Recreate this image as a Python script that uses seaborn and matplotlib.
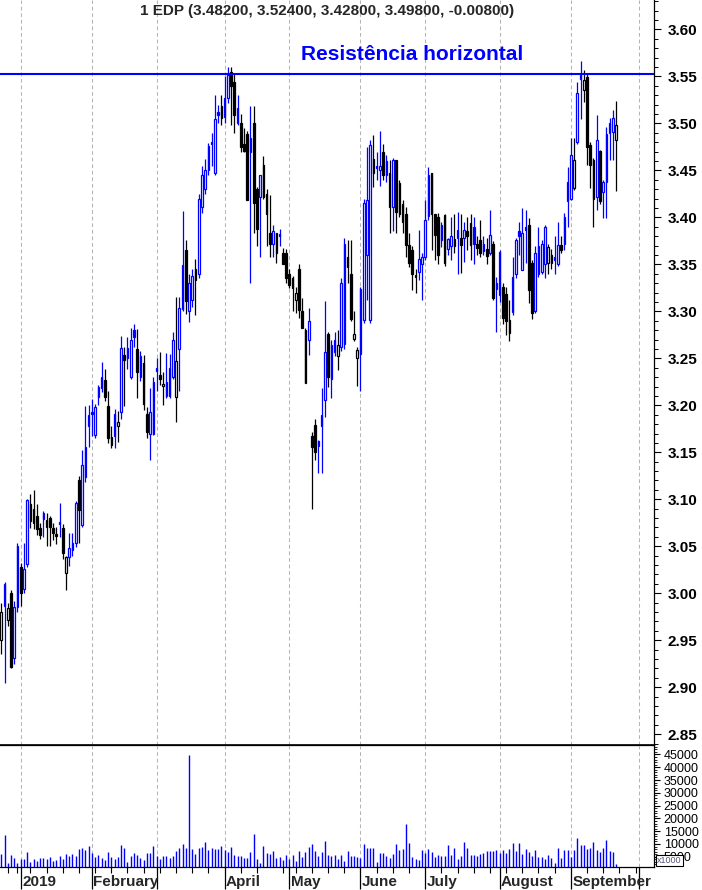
import numpy as np
import pandas as pd
import matplotlib
matplotlib.use("Agg")
import matplotlib.pyplot as plt
import matplotlib.transforms as mtransforms
import seaborn as sns

# EDP daily candles (Euronext Lisbon), 20 Dec 2018 .. 20 Sep 2019
opens = [2.950, 2.986, 2.972, 3.000, 2.931, 2.985,
         3.028, 3.005, 3.031, 3.095, 3.090, 3.082, 3.069, 3.079, 3.070, 3.080,
         3.069, 3.063, 3.074, 3.069, 3.022, 3.039, 3.046, 3.053, 3.121, 3.073,
         3.124, 3.178, 3.193, 3.168, 3.209, 3.218, 3.227, 3.199, 3.166, 3.167,
         3.178, 3.193, 3.254, 3.250, 3.230, 3.280, 3.260, 3.230, 3.245, 3.191,
         3.170, 3.170, 3.240, 3.232, 3.221, 3.210, 3.210, 3.230, 3.209, 3.260,
         3.302, 3.365, 3.300, 3.312, 3.345, 3.340, 3.411, 3.430, 3.450, 3.480,
         3.447, 3.512, 3.518, 3.507, 3.527, 3.555, 3.544, 3.500, 3.500, 3.478,
         3.489, 3.470, 3.500, 3.430, 3.422, 3.456, 3.425, 3.383, 3.372, 3.383,
         3.382, 3.362, 3.362, 3.340, 3.335, 3.312, 3.345, 3.300, 3.280, 3.270,
         3.167, 3.179, 3.162, 3.178, 3.206, 3.276, 3.228, 3.257, 3.252, 3.262,
         3.265, 3.347, 3.340, 3.271, 3.250, 3.255, 3.291, 3.360, 3.291, 3.462,
         3.455, 3.450, 3.470, 3.445, 3.447, 3.411, 3.461, 3.436, 3.414, 3.404,
         3.371, 3.365, 3.337, 3.342, 3.350, 3.358, 3.401, 3.447, 3.403, 3.400,
         3.392, 3.402, 3.366, 3.370, 3.377, 3.378, 3.378, 3.378, 3.385, 3.394,
         3.390, 3.372, 3.376, 3.372, 3.366, 3.362, 3.372, 3.330, 3.317, 3.326,
         3.318, 3.291, 3.299, 3.340, 3.385, 3.344, 3.390, 3.392, 3.351, 3.300,
         3.340, 3.342, 3.350, 3.351, 3.360, 3.355, 3.350, 3.371, 3.372, 3.417,
         3.420, 3.431, 3.480, 3.547, 3.535, 3.549, 3.477, 3.461, 3.422, 3.471,
         3.427, 3.438, 3.490, 3.491, 3.482]
highs = [2.990, 3.012, 2.990, 3.003, 2.992, 3.053,
         3.032, 3.053, 3.100, 3.106, 3.110, 3.095, 3.075, 3.088, 3.085, 3.082,
         3.075, 3.070, 3.096, 3.074, 3.040, 3.064, 3.064, 3.098, 3.125, 3.152,
         3.199, 3.200, 3.207, 3.201, 3.222, 3.246, 3.239, 3.215, 3.178, 3.196,
         3.194, 3.274, 3.262, 3.273, 3.282, 3.287, 3.281, 3.258, 3.254, 3.198,
         3.218, 3.230, 3.250, 3.257, 3.235, 3.256, 3.255, 3.278, 3.315, 3.315,
         3.407, 3.376, 3.340, 3.345, 3.356, 3.425, 3.455, 3.462, 3.479, 3.490,
         3.530, 3.520, 3.530, 3.550, 3.560, 3.560, 3.552, 3.530, 3.510, 3.495,
         3.492, 3.518, 3.518, 3.432, 3.445, 3.465, 3.430, 3.424, 3.392, 3.383,
         3.388, 3.367, 3.366, 3.345, 3.338, 3.326, 3.350, 3.314, 3.282, 3.303,
         3.172, 3.185, 3.163, 3.218, 3.311, 3.278, 3.269, 3.278, 3.280, 3.335,
         3.378, 3.376, 3.376, 3.300, 3.262, 3.326, 3.420, 3.475, 3.482, 3.488,
         3.470, 3.492, 3.478, 3.466, 3.461, 3.463, 3.461, 3.440, 3.418, 3.411,
         3.383, 3.369, 3.345, 3.386, 3.362, 3.418, 3.454, 3.447, 3.404, 3.405,
         3.395, 3.404, 3.378, 3.400, 3.404, 3.406, 3.404, 3.395, 3.400, 3.404,
         3.400, 3.380, 3.397, 3.380, 3.378, 3.408, 3.375, 3.336, 3.365, 3.330,
         3.326, 3.312, 3.358, 3.378, 3.395, 3.410, 3.408, 3.399, 3.355, 3.370,
         3.390, 3.376, 3.392, 3.372, 3.366, 3.380, 3.395, 3.380, 3.405, 3.454,
         3.484, 3.484, 3.544, 3.566, 3.557, 3.552, 3.480, 3.463, 3.509, 3.472,
         3.440, 3.496, 3.506, 3.514, 3.524]
lows = [2.935, 2.905, 2.965, 2.920, 2.925, 2.980,
        2.987, 3.000, 3.028, 3.069, 3.068, 3.062, 3.058, 3.060, 3.050, 3.050,
        3.057, 3.052, 3.060, 3.037, 3.004, 3.029, 3.040, 3.049, 3.053, 3.070,
        3.118, 3.156, 3.167, 3.165, 3.200, 3.214, 3.205, 3.160, 3.155, 3.155,
        3.161, 3.185, 3.199, 3.239, 3.228, 3.262, 3.208, 3.226, 3.195, 3.165,
        3.142, 3.168, 3.215, 3.222, 3.200, 3.208, 3.208, 3.228, 3.182, 3.215,
        3.300, 3.297, 3.289, 3.305, 3.296, 3.335, 3.405, 3.425, 3.445, 3.455,
        3.445, 3.500, 3.498, 3.500, 3.522, 3.498, 3.490, 3.498, 3.470, 3.470,
        3.418, 3.330, 3.383, 3.369, 3.358, 3.420, 3.370, 3.358, 3.358, 3.351,
        3.370, 3.350, 3.330, 3.325, 3.300, 3.298, 3.293, 3.282, 3.224, 3.254,
        3.090, 3.142, 3.128, 3.128, 3.188, 3.220, 3.208, 3.252, 3.238, 3.258,
        3.260, 3.330, 3.290, 3.268, 3.221, 3.215, 3.288, 3.312, 3.288, 3.432,
        3.440, 3.433, 3.440, 3.438, 3.383, 3.385, 3.383, 3.400, 3.383, 3.358,
        3.347, 3.323, 3.320, 3.333, 3.312, 3.355, 3.397, 3.365, 3.355, 3.350,
        3.368, 3.348, 3.360, 3.355, 3.362, 3.340, 3.341, 3.352, 3.365, 3.355,
        3.350, 3.360, 3.358, 3.360, 3.350, 3.360, 3.312, 3.278, 3.310, 3.286,
        3.275, 3.268, 3.296, 3.335, 3.360, 3.344, 3.351, 3.309, 3.292, 3.298,
        3.337, 3.340, 3.335, 3.340, 3.345, 3.340, 3.348, 3.362, 3.365, 3.390,
        3.418, 3.429, 3.478, 3.505, 3.523, 3.456, 3.431, 3.390, 3.408, 3.414,
        3.399, 3.399, 3.461, 3.461, 3.428]
closes = [2.980, 3.010, 2.984, 2.922, 2.985, 3.050,
          3.000, 3.026, 3.099, 3.077, 3.075, 3.068, 3.062, 3.085, 3.078, 3.070,
          3.064, 3.061, 3.076, 3.043, 3.039, 3.048, 3.053, 3.096, 3.089, 3.137,
          3.156, 3.190, 3.191, 3.198, 3.219, 3.230, 3.209, 3.165, 3.158, 3.191,
          3.182, 3.261, 3.248, 3.261, 3.270, 3.273, 3.235, 3.252, 3.201, 3.172,
          3.193, 3.225, 3.236, 3.228, 3.223, 3.225, 3.240, 3.270, 3.247, 3.304,
          3.349, 3.311, 3.330, 3.338, 3.333, 3.420, 3.445, 3.450, 3.476, 3.478,
          3.505, 3.509, 3.506, 3.527, 3.551, 3.540, 3.509, 3.516, 3.475, 3.471,
          3.418, 3.484, 3.415, 3.388, 3.445, 3.422, 3.403, 3.372, 3.385, 3.362,
          3.380, 3.350, 3.335, 3.328, 3.325, 3.319, 3.301, 3.282, 3.224, 3.290,
          3.156, 3.150, 3.157, 3.190, 3.257, 3.230, 3.264, 3.270, 3.264, 3.330,
          3.372, 3.358, 3.292, 3.276, 3.259, 3.324, 3.415, 3.418, 3.477, 3.447,
          3.452, 3.455, 3.445, 3.460, 3.411, 3.461, 3.406, 3.404, 3.395, 3.371,
          3.351, 3.340, 3.339, 3.356, 3.358, 3.397, 3.445, 3.403, 3.381, 3.360,
          3.376, 3.351, 3.377, 3.380, 3.370, 3.386, 3.371, 3.387, 3.380, 3.371,
          3.372, 3.367, 3.362, 3.364, 3.359, 3.381, 3.314, 3.324, 3.363, 3.293,
          3.290, 3.277, 3.337, 3.376, 3.380, 3.383, 3.387, 3.323, 3.298, 3.362,
          3.369, 3.372, 3.390, 3.368, 3.351, 3.358, 3.371, 3.365, 3.400, 3.438,
          3.466, 3.461, 3.532, 3.551, 3.546, 3.475, 3.456, 3.420, 3.482, 3.417,
          3.438, 3.489, 3.500, 3.506, 3.498]
# volume in thousands of shares
volumes = [6100, 13500, 2450, 5850, 4650, 2700,
           4000, 4150, 6850, 3000, 4150, 3350, 4550, 4550, 4150, 4900,
           3350, 3750, 5450, 4150, 6100, 5300, 6100, 5300, 8050, 8550,
           7650, 9200, 6500, 5050, 5700, 4400, 3750, 6850, 5050, 4150,
           5050, 9600, 8450, 3000, 5300, 6500, 5600, 4550, 3750, 6500,
           6500, 9200, 5300, 4150, 5300, 5300, 4650, 5300, 7250, 8450,
           10000, 8450, 44750, 8050, 6100, 8450, 8800, 10800, 7650, 8450,
           8050, 8050, 9200, 7650, 6850, 8800, 5700, 5300, 5450, 4650,
           4650, 6850, 13900, 4150, 2700, 9200, 6500, 6100, 7250, 4550,
           4900, 3750, 5700, 4000, 5700, 3350, 7250, 4900, 6850, 8800,
           10000, 7250, 5300, 6850, 11200, 5700, 5300, 5700, 4150, 5700,
           3350, 7250, 5300, 5300, 4900, 4550, 10000, 8450, 8450, 8450,
           3000, 6500, 6500, 5300, 4550, 6100, 10000, 7650, 8050, 17800,
           10400, 4900, 4150, 3750, 7650, 6500, 8050, 6850, 4900, 5700,
           5300, 5300, 9600, 5700, 8450, 4150, 5300, 10800, 8450, 5700,
           5700, 5300, 6100, 6500, 7250, 7250, 7250, 7650, 6500, 7650,
           6500, 8050, 10400, 7250, 10400, 6100, 8050, 6850, 5300, 7650,
           4900, 4900, 4150, 5700, 4550, 2550, 8450, 4550, 7650, 7650,
           4900, 7650, 12350, 9600, 9600, 8050, 8450, 10800, 7650, 6850,
           8450, 11550, 7250, 6850, 2100]

month_names = ["2019", "February", "", "April", "May", "June", "July",
               "August", "September", ""]
resistance = 3.552
title_text = "1 EDP (3.48200, 3.52400, 3.42800, 3.49800, -0.00800)"

# trading calendar (extended a little past the data for the October tick)
holidays = pd.to_datetime(["2018-12-25", "2018-12-26", "2019-01-01",
                           "2019-04-19", "2019-04-22", "2019-05-01"])
days = pd.bdate_range("2018-12-20", "2019-10-04")
days = days[~days.isin(holidays)]
month_pos = [i for i in range(1, len(days)) if days[i].month != days[i - 1].month]
week_pos = [i for i in range(len(days)) if days[i].weekday() == 0]

sns.set_style("white")
plt.rcParams["font.family"] = ["Liberation Sans", "DejaVu Sans"]

BLUE = "#0000ff"
GRID = "#b4b4b4"

fig = plt.figure(figsize=(7.02, 8.90), dpi=100)
ax = fig.add_axes([0, 145 / 890, 654 / 702, 745 / 890])
axv = fig.add_axes([0, 23 / 890, 654 / 702, 122 / 890], sharex=ax)

x = np.arange(len(closes))
o = np.array(opens)
h = np.array(highs)
l = np.array(lows)
c = np.array(closes)
prev = np.r_[np.inf, c[:-1]]
colors = np.where(c > prev, BLUE, "black")
face = np.where(c > o, "white", colors)

for a in (ax, axv):
    for p in month_pos:
        a.axvline(p, color=GRID, lw=0.75, ls=(0, (3.6, 2.7)), zorder=1)

# candles
ax.vlines(x, l, h, colors=colors, lw=0.9, zorder=2)
ax.bar(x, np.maximum(np.abs(c - o), 0.0012), bottom=np.minimum(o, c), width=0.5,
       color=list(face), edgecolor=list(colors), linewidth=0.9, zorder=3)
ax.axhline(resistance, color=BLUE, lw=1.5, zorder=4)
ax.text(126.9, 3.5737, "Resistência horizontal", color=BLUE, fontsize=15,
        fontweight="bold", ha="center", va="center")

# volume
axv.vlines(x, 0, volumes, colors=BLUE, lw=1.0, zorder=2)

ax.set_xlim(-0.4, 201.7)
ax.set_ylim(2.8386, 3.6312)
axv.set_ylim(1000, 48700)

ax.set_yticks(np.round(np.arange(2.85, 3.601, 0.05), 2))
ax.set_yticks(np.round(np.arange(2.84, 3.631, 0.01), 2), minor=True)
ax.set_yticklabels([f"{v:.2f}" for v in np.arange(2.85, 3.601, 0.05)],
                   fontweight="bold")
ax.yaxis.tick_right()
ax.tick_params(axis="y", which="major", right=True, left=False, length=5,
               width=0.8, pad=5, labelsize=11, colors="black")
ax.tick_params(axis="y", which="minor", right=True, left=False, length=3,
               width=0.7, colors="black")
ax.tick_params(axis="x", which="both", bottom=False, labelbottom=False)

vt = np.arange(5000, 45001, 5000)
axv.set_yticks(vt)
axv.set_yticklabels([str(v) for v in vt])
axv.set_yticks(np.arange(2000, 48001, 1000), minor=True)
axv.yaxis.tick_right()
axv.tick_params(axis="y", which="major", right=True, left=False, length=4,
                width=0.8, pad=3, labelsize=9, colors="black")
axv.tick_params(axis="y", which="minor", right=True, left=False, length=2,
                width=0.6, colors="black")
axv.set_xticks(month_pos)
axv.set_xticks(week_pos, minor=True)
axv.tick_params(axis="x", which="major", bottom=True, length=16, width=0.9,
                labelbottom=False, colors="black")
axv.tick_params(axis="x", which="minor", bottom=True, length=4, width=0.8,
                colors="black")

trans = mtransforms.blended_transform_factory(axv.transData, axv.transAxes)
for p, name in zip(month_pos, month_names):
    axv.text(p + 0.45, -0.125, name, transform=trans, ha="left", va="center",
             fontsize=11, fontweight="bold")

for a in (ax, axv):
    a.spines["left"].set_visible(False)
    a.spines["right"].set_color("black")
    a.spines["bottom"].set_color("black")
    a.spines["right"].set_linewidth(0.9)
    a.spines["bottom"].set_linewidth(0.9)
ax.spines["top"].set_visible(False)
# separator between price and volume panels
axv.spines["top"].set_visible(True)
axv.spines["top"].set_color("black")
axv.spines["top"].set_linewidth(1.2)
axv.set_zorder(2)
axv.patch.set_alpha(0)

fig.text(327 / 702, 1 - 11 / 890, title_text, ha="center", va="center",
         fontsize=11, fontweight="bold")
fig.text(669.5 / 702, 1 - 860.5 / 890, "x1000", ha="center", va="center",
         fontsize=6.5, color="#555577", zorder=5,
         bbox=dict(boxstyle="square,pad=0.15", fc="white", ec="black", lw=0.8))

fig.savefig("out.png", dpi=100)
